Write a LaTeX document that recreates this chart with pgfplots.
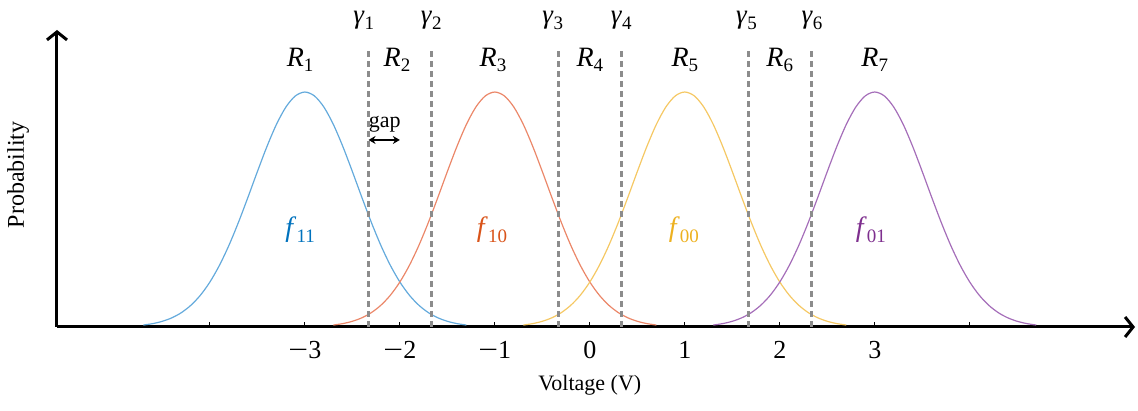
\documentclass[border=0pt]{standalone}
\usepackage{fontspec}
\setmainfont{Liberation Serif}
\usepackage{graphicx}
\usepackage{pgfplots}
\pgfplotsset{compat=1.18}
\usetikzlibrary{arrows.meta}

% label colours
\definecolor{cBlue}{RGB}{0,114,189}
\definecolor{cRed}{RGB}{217,83,25}
\definecolor{cYellow}{RGB}{237,177,32}
\definecolor{cPurple}{RGB}{126,47,142}
% curve colours
\definecolor{lBlue}{RGB}{100,170,220}
\definecolor{lRed}{RGB}{235,135,105}
\definecolor{lYellow}{RGB}{245,200,100}
\definecolor{lPurple}{RGB}{165,110,185}
\definecolor{thr}{RGB}{140,140,140}

\newcommand{\fbig}{\fontsize{14}{16}\selectfont}
\newcommand{\fgam}{\fontsize{13.5}{16}\selectfont}
\newcommand{\ftick}{\fontsize{13}{15}\selectfont}
\newcommand{\fsmall}{\fontsize{11}{13}\selectfont}
% lowered upright subscript
\newcommand{\sub}[1]{\raisebox{-0.45ex}{\fontsize{9.5}{11}\selectfont #1}}
% wide minus for tick labels
\newcommand{\mn}{\scalebox{1.35}[1]{−}}

\begin{document}
\begin{tikzpicture}
\begin{axis}[
  name=ax,
  scale only axis,
  width=539pt, height=148.5pt,
  xmin=-5.61, xmax=5.74, ymin=0, ymax=1.264,
  axis lines=left,
  axis line style={line width=1.5pt,
    -{Straight Barb[length=4pt,width=10pt,line width=1.5pt]}},
  ytick=\empty,
  xtick={-4,-3,-2,-1,0,1,2,3,4},
  xticklabels={,\mn3,\mn2,\mn1,0,1,2,3,},
  tick align=inside,
  major tick length=2.5pt,
  xtick style={line width=0.5pt,black},
  xticklabel style={font=\ftick, yshift=-3.7pt},
  /pgf/number format/assume math mode=true,
  clip=false,
]
% f11
\addplot[lBlue, line width=0.6pt, smooth] coordinates {
(-4.7,0.0084) (-4.6,0.0145) (-4.5,0.0243) (-4.4,0.0392) (-4.3,0.0612)
(-4.2,0.0926) (-4.1,0.1353) (-4.0,0.1915) (-3.9,0.2622) (-3.8,0.3472)
(-3.7,0.4449) (-3.6,0.5515) (-3.5,0.6615) (-3.4,0.7676) (-3.3,0.8618)
(-3.2,0.9360) (-3.1,0.9836) (-3.0,1.0000) (-2.9,0.9836) (-2.8,0.9360)
(-2.7,0.8618) (-2.6,0.7676) (-2.5,0.6615) (-2.4,0.5515) (-2.3,0.4449)
(-2.2,0.3472) (-2.1,0.2622) (-2.0,0.1915) (-1.9,0.1353) (-1.8,0.0926)
(-1.7,0.0612) (-1.6,0.0392) (-1.5,0.0243) (-1.4,0.0145) (-1.3,0.0084)
};
% f10
\addplot[lRed, line width=0.6pt, smooth] coordinates {
(-2.7,0.0084) (-2.6,0.0145) (-2.5,0.0243) (-2.4,0.0392) (-2.3,0.0612)
(-2.2,0.0926) (-2.1,0.1353) (-2.0,0.1915) (-1.9,0.2622) (-1.8,0.3472)
(-1.7,0.4449) (-1.6,0.5515) (-1.5,0.6615) (-1.4,0.7676) (-1.3,0.8618)
(-1.2,0.9360) (-1.1,0.9836) (-1.0,1.0000) (-0.9,0.9836) (-0.8,0.9360)
(-0.7,0.8618) (-0.6,0.7676) (-0.5,0.6615) (-0.4,0.5515) (-0.3,0.4449)
(-0.2,0.3472) (-0.1,0.2622) (0.0,0.1915) (0.1,0.1353) (0.2,0.0926)
(0.3,0.0612) (0.4,0.0392) (0.5,0.0243) (0.6,0.0145) (0.7,0.0084)
};
% f00
\addplot[lYellow, line width=0.6pt, smooth] coordinates {
(-0.7,0.0084) (-0.6,0.0145) (-0.5,0.0243) (-0.4,0.0392) (-0.3,0.0612)
(-0.2,0.0926) (-0.1,0.1353) (0.0,0.1915) (0.1,0.2622) (0.2,0.3472)
(0.3,0.4449) (0.4,0.5515) (0.5,0.6615) (0.6,0.7676) (0.7,0.8618)
(0.8,0.9360) (0.9,0.9836) (1.0,1.0000) (1.1,0.9836) (1.2,0.9360)
(1.3,0.8618) (1.4,0.7676) (1.5,0.6615) (1.6,0.5515) (1.7,0.4449)
(1.8,0.3472) (1.9,0.2622) (2.0,0.1915) (2.1,0.1353) (2.2,0.0926)
(2.3,0.0612) (2.4,0.0392) (2.5,0.0243) (2.6,0.0145) (2.7,0.0084)
};
% f01
\addplot[lPurple, line width=0.6pt, smooth] coordinates {
(1.3,0.0084) (1.4,0.0145) (1.5,0.0243) (1.6,0.0392) (1.7,0.0612)
(1.8,0.0926) (1.9,0.1353) (2.0,0.1915) (2.1,0.2622) (2.2,0.3472)
(2.3,0.4449) (2.4,0.5515) (2.5,0.6615) (2.6,0.7676) (2.7,0.8618)
(2.8,0.9360) (2.9,0.9836) (3.0,1.0000) (3.1,0.9836) (3.2,0.9360)
(3.3,0.8618) (3.4,0.7676) (3.5,0.6615) (3.6,0.5515) (3.7,0.4449)
(3.8,0.3472) (3.9,0.2622) (4.0,0.1915) (4.1,0.1353) (4.2,0.0926)
(4.3,0.0612) (4.4,0.0392) (4.5,0.0243) (4.6,0.0145) (4.7,0.0084)
};

% decision thresholds
\pgfplotsset{thrline/.style={thr, line width=1.5pt, dash pattern=on 3pt off 2pt}}
\addplot[thrline] coordinates {(-2.33,0) (-2.33,1.179)};
\addplot[thrline] coordinates {(-1.67,0) (-1.67,1.179)};
\addplot[thrline] coordinates {(-0.33,0) (-0.33,1.179)};
\addplot[thrline] coordinates {(0.33,0) (0.33,1.179)};
\addplot[thrline] coordinates {(1.67,0) (1.67,1.179)};
\addplot[thrline] coordinates {(2.33,0) (2.33,1.179)};

% threshold names
\node[anchor=base, font=\fgam] at (axis cs:-2.38,1.29) {\textit{γ}\sub{1}};
\node[anchor=base, font=\fgam] at (axis cs:-1.67,1.29) {\textit{γ}\sub{2}};
\node[anchor=base, font=\fgam] at (axis cs:-0.39,1.29) {\textit{γ}\sub{3}};
\node[anchor=base, font=\fgam] at (axis cs:0.33,1.29) {\textit{γ}\sub{4}};
\node[anchor=base, font=\fgam] at (axis cs:1.65,1.29) {\textit{γ}\sub{5}};
\node[anchor=base, font=\fgam] at (axis cs:2.34,1.29) {\textit{γ}\sub{6}};

% decision regions
\node[anchor=base, font=\fbig] at (axis cs:-3.05,1.11) {\textit{R}\sub{1}};
\node[anchor=base, font=\fbig] at (axis cs:-2.03,1.11) {\textit{R}\sub{2}};
\node[anchor=base, font=\fbig] at (axis cs:-1.02,1.11) {\textit{R}\sub{3}};
\node[anchor=base, font=\fbig] at (axis cs:0,1.11) {\textit{R}\sub{4}};
\node[anchor=base, font=\fbig] at (axis cs:1,1.11) {\textit{R}\sub{5}};
\node[anchor=base, font=\fbig] at (axis cs:2,1.11) {\textit{R}\sub{6}};
\node[anchor=base, font=\fbig] at (axis cs:3,1.11) {\textit{R}\sub{7}};

% densities
\node[anchor=base, font=\fbig, text=cBlue] at (axis cs:-3.05,0.385) {\textit{f}\sub{11}};
\node[anchor=base, font=\fbig, text=cRed] at (axis cs:-1.03,0.385) {\textit{f}\sub{10}};
\node[anchor=base, font=\fbig, text=cYellow] at (axis cs:0.99,0.385) {\textit{f}\sub{00}};
\node[anchor=base, font=\fbig, text=cPurple] at (axis cs:2.96,0.385) {\textit{f}\sub{01}};

% guard gap
\node[anchor=base, font=\fontsize{11}{13}\selectfont] at (axis cs:-2.16,0.847) {gap};
\draw[{Stealth[length=3.5pt,width=4pt]}-{Stealth[length=3.5pt,width=4pt]}, line width=0.8pt]
  (axis cs:-2.33,0.796) -- (axis cs:-2.0,0.796);

% axis titles
\node[font=\fsmall] at (axis cs:0,-0.247) {Voltage (V)};
\node[font=\fontsize{12}{14}\selectfont, rotate=90] at (axis cs:-6.02,0.647) {Probability};
\end{axis}
\pgfresetboundingbox
\path[use as bounding box] ([xshift=-28.5pt,yshift=-42pt]ax.south west)
  rectangle ([xshift=1.5pt,yshift=15pt]ax.north east);
\end{tikzpicture}
\end{document}
